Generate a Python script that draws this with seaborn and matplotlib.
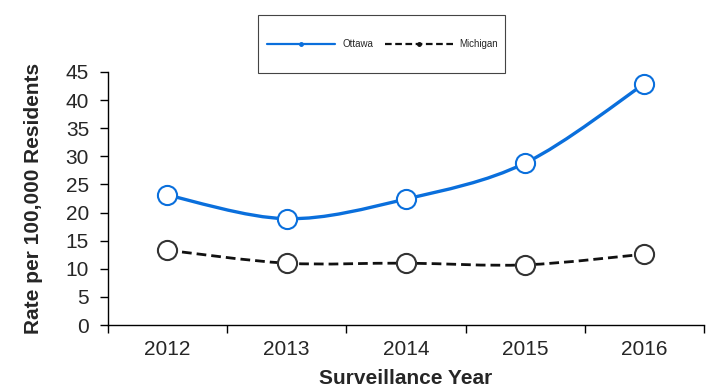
import numpy as np
import matplotlib
matplotlib.use("Agg")
import matplotlib.pyplot as plt
from matplotlib.path import Path
from matplotlib.patches import PathPatch, Rectangle
from matplotlib.lines import Line2D
import seaborn as sns

# --- data ---
years = ["2012", "2013", "2014", "2015", "2016"]
ottawa = [23.1, 18.9, 22.4, 28.8, 42.9]
michigan = [13.3, 11.0, 11.0, 10.7, 12.6]

sns.set_theme(style="white")
plt.rcParams['font.family'] = ['Liberation Sans', 'DejaVu Sans']

BLUE = "#0a6fdc"
BLACK = "#111111"
DASH = (0, (3.5, 1.8))


def smooth_path(xs, ys):
    # Excel-style smoothed line: Catmull-Rom segments drawn as cubic Beziers
    verts = [(xs[0], ys[0])]
    codes = [Path.MOVETO]
    n = len(xs)
    for i in range(n - 1):
        p0 = (xs[max(i - 1, 0)], ys[max(i - 1, 0)])
        p1 = (xs[i], ys[i])
        p2 = (xs[i + 1], ys[i + 1])
        p3 = (xs[min(i + 2, n - 1)], ys[min(i + 2, n - 1)])
        c1 = (p1[0] + (p2[0] - p0[0]) / 6, p1[1] + (p2[1] - p0[1]) / 6)
        c2 = (p2[0] - (p3[0] - p1[0]) / 6, p2[1] - (p3[1] - p1[1]) / 6)
        verts += [c1, c2, p2]
        codes += [Path.CURVE4] * 3
    return Path(verts, codes)


fig = plt.figure(figsize=(7.09, 3.89), dpi=100)
ax = fig.add_axes([0.152, 0.1645, 0.841, 0.6505])

x = np.arange(len(years))
ax.add_patch(PathPatch(smooth_path(x, ottawa), fill=False, color=BLUE, lw=2.4,
                       zorder=2))
ax.add_patch(PathPatch(smooth_path(x, michigan), fill=False, color=BLACK, lw=2.0,
                       ls=DASH, zorder=2))
sns.scatterplot(x=x, y=ottawa, ax=ax, s=190, facecolor="white", edgecolor=BLUE,
                linewidth=1.5, zorder=3)
sns.scatterplot(x=x, y=michigan, ax=ax, s=190, facecolor="white", edgecolor="#333333",
                linewidth=1.5, zorder=3)

ax.set_xlim(-0.5, 4.5)
ax.set_ylim(0, 45)
ax.set_yticks(range(0, 50, 5))
ax.set_xticks(np.arange(-0.5, 5, 1))
ax.set_xticklabels([])
ax.set_xticks(x, minor=True)
ax.set_xticklabels(years, minor=True)
ax.tick_params(axis="x", which="major", bottom=True, direction="out", length=5.5,
               width=1, color="black")
ax.tick_params(axis="x", which="minor", bottom=True, length=0, labelsize=15, pad=11)
ax.tick_params(axis="y", left=True, direction="out", length=5.5, width=1, color="black",
               labelsize=15, pad=8)
for side in ["top", "right"]:
    ax.spines[side].set_visible(False)
for side in ["left", "bottom"]:
    ax.spines[side].set_color("black")
    ax.spines[side].set_linewidth(1)
ax.set_xlabel("Surveillance Year", fontsize=15, fontweight="bold", labelpad=7)
ax.set_ylabel("Rate per 100,000 Residents", fontsize=15, fontweight="bold", labelpad=16)

# legend with its own box
fig.patches.append(Rectangle((0.364, 0.812), 0.348, 0.149, transform=fig.transFigure,
                             fill=True, facecolor="white", edgecolor="#444444", lw=0.8,
                             zorder=5))
handles = [
    Line2D([], [], color=BLUE, lw=1.6, marker="o", markersize=2.5),
    Line2D([], [], color=BLACK, lw=1.6, ls=(0, (3, 1.6)), marker="o", markersize=2.5),
]
leg = fig.legend(handles, ["Ottawa", "Michigan"], loc="center",
                 bbox_to_anchor=(0.54, 0.887), ncol=2, frameon=False, fontsize=7,
                 handlelength=7, columnspacing=1.2, handletextpad=0.7)
leg.set_zorder(6)

fig.savefig("out.png", dpi=100)
